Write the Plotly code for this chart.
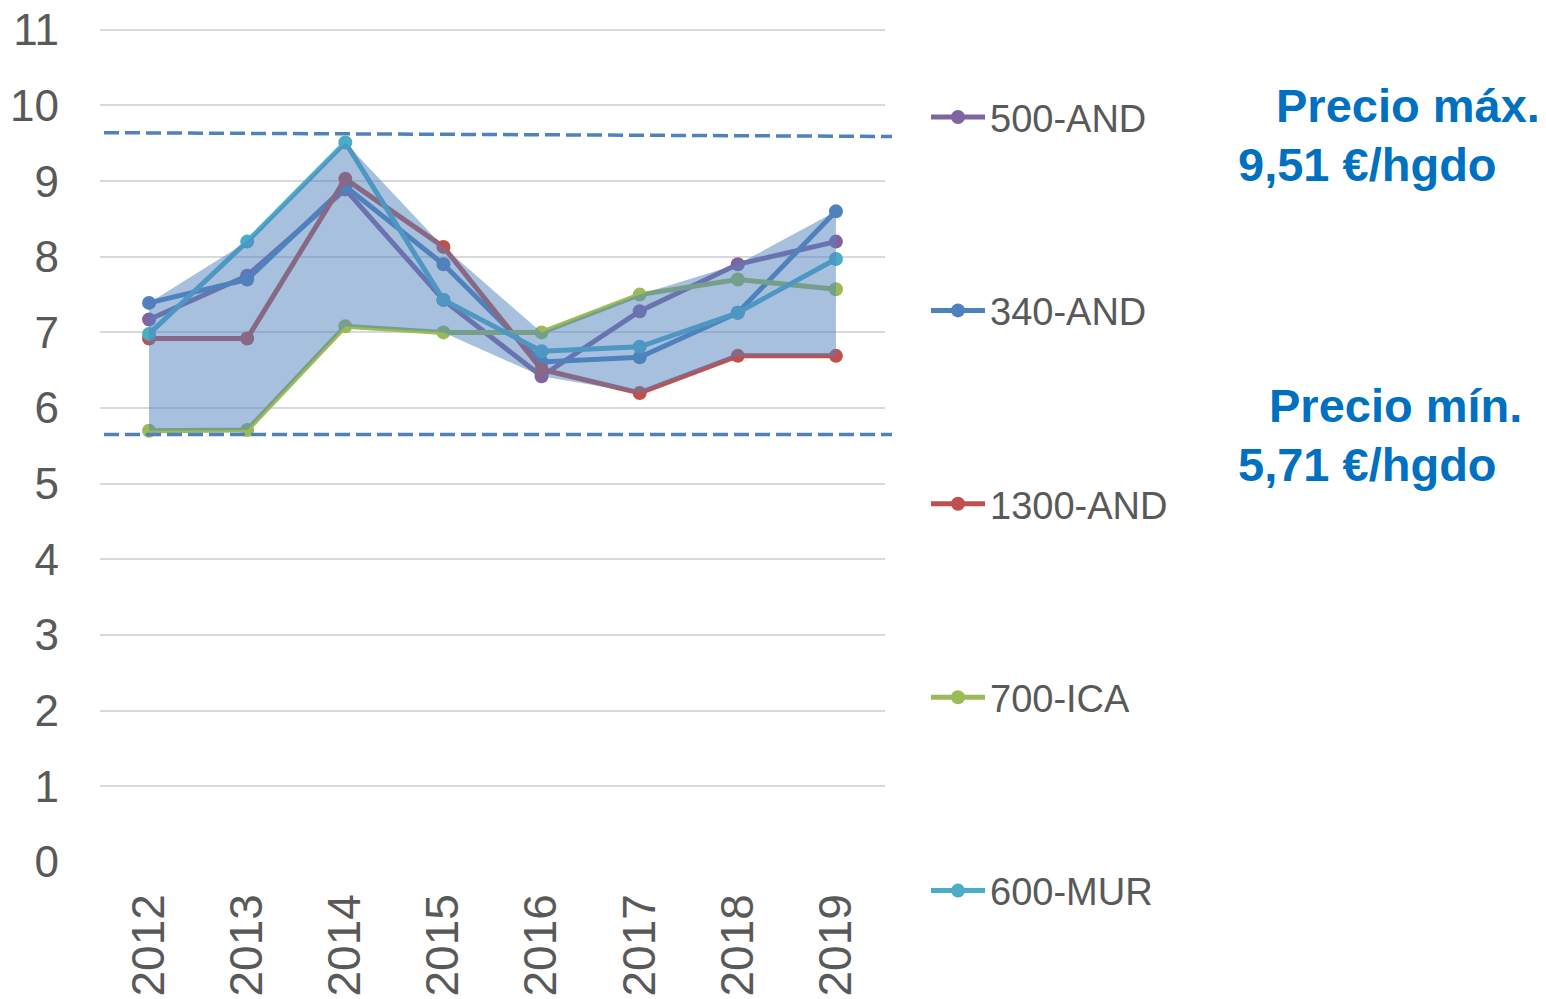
import plotly.graph_objects as go

years = ["2012", "2013", "2014", "2015", "2016", "2017", "2018", "2019"]
s500_and = [7.17, 7.75, 8.89, 7.43, 6.42, 7.28, 7.90, 8.20]
s340_and = [7.39, 7.70, 8.93, 7.90, 6.61, 6.67, 7.26, 8.60]
s1300_and = [6.92, 6.92, 9.03, 8.13, 6.51, 6.20, 6.69, 6.69]
s700_ica = [5.70, 5.71, 7.08, 7.00, 7.00, 7.50, 7.70, 7.57]
s600_mur = [6.98, 8.20, 9.51, 7.43, 6.75, 6.81, 7.26, 7.97]

series_names = ["500-AND", "340-AND", "1300-AND", "700-ICA", "600-MUR"]
series_values = [s500_and, s340_and, s1300_and, s700_ica, s600_mur]
series_colors = ["#8064A2", "#4F81BD", "#C0504D", "#9BBB59", "#4BACC6"]

max_ref_line = [9.64, 9.59]
min_ref_line = [5.65, 5.65]
y_ticks = list(range(0, 12))
Y_TOP = 11.05

TEXT = "#595959"
FONT = "Liberation Sans, Arial, sans-serif"

# page body has an 8px margin: compensate so screen positions match
OFF = 8
W, H = 1546, 999
UNIT = (862 - 30) / 11.0
PL, PR = 100 - OFF, 885 - OFF
PB = 862 - OFF
PT = PB - UNIT * Y_TOP

fig = go.Figure()

for i, (name, vals, col) in enumerate(zip(series_names, series_values, series_colors)):
    fig.add_trace(go.Scatter(
        x=years, y=vals, name=name, mode="lines+markers",
        line=dict(color=col, width=5),
        marker=dict(color=col, size=14),
        legendgroup=f"g{i}",
    ))

env_max = [max(v) for v in zip(*series_values)]
env_min = [min(v) for v in zip(*series_values)]
fig.add_trace(go.Scatter(
    x=years + years[::-1], y=env_max + env_min[::-1],
    fill="toself", fillcolor="rgba(79,129,189,0.5)",
    line=dict(width=0, color="rgba(0,0,0,0)"), mode="lines",
    showlegend=False, hoverinfo="skip",
))


def px_x(px):
    return (px - OFF - PL) / (PR - PL)


def px_y(py):
    return (PB - (py - OFF)) / (PB - PT)


# reference dashed lines
for ys in (max_ref_line, min_ref_line):
    fig.add_shape(type="line", xref="paper", yref="y",
                  x0=px_x(104), x1=px_x(892), y0=ys[0], y1=ys[1],
                  line=dict(color="#4F81BD", width=3.5, dash="15px,6px"))

ann = [
    ("<b>Precio máx.</b>", 1274, 106),
    ("<b>9,51 €/hgdo</b>", 1236, 165),
    ("<b>Precio mín.</b>", 1267, 406),
    ("<b>5,71 €/hgdo</b>", 1236, 465),
]
for txt, x, y in ann:
    fig.add_annotation(text=txt, xref="paper", yref="paper",
                       x=px_x(x), y=px_y(y), xanchor="left", yanchor="middle",
                       showarrow=False,
                       font=dict(family=FONT, size=47, color="#0070C0"))

fig.update_layout(
    width=W, height=H,
    margin=dict(l=PL, r=W - PR, t=PT, b=H - PB, autoexpand=False),
    paper_bgcolor="white", plot_bgcolor="white",
    font=dict(family=FONT, color=TEXT),
    showlegend=True,
    legend=dict(
        x=px_x(926), y=px_y(86), xanchor="left", yanchor="top",
        font=dict(family=FONT, size=38, color=TEXT),
        tracegroupgap=141, bgcolor="rgba(0,0,0,0)",
        itemwidth=54, maxheight=990,
    ),
    xaxis=dict(
        type="category", range=[-0.5, 7.5], showgrid=False, showline=False,
        zeroline=False, ticks="", tickangle=-90, automargin=False,
        tickfont=dict(family=FONT, size=46, color=TEXT),
        ticklabelstandoff=22, ticklabeloverflow="allow",
    ),
    yaxis=dict(
        range=[0, Y_TOP], tickvals=y_ticks, showgrid=True, gridcolor="#D9D9D9",
        gridwidth=1.5, zeroline=False, showline=False, ticks="", automargin=False,
        tickfont=dict(family=FONT, size=44, color=TEXT),
        ticklabelstandoff=40, ticklabeloverflow="allow",
    ),
)

fig.write_html("out.html")
